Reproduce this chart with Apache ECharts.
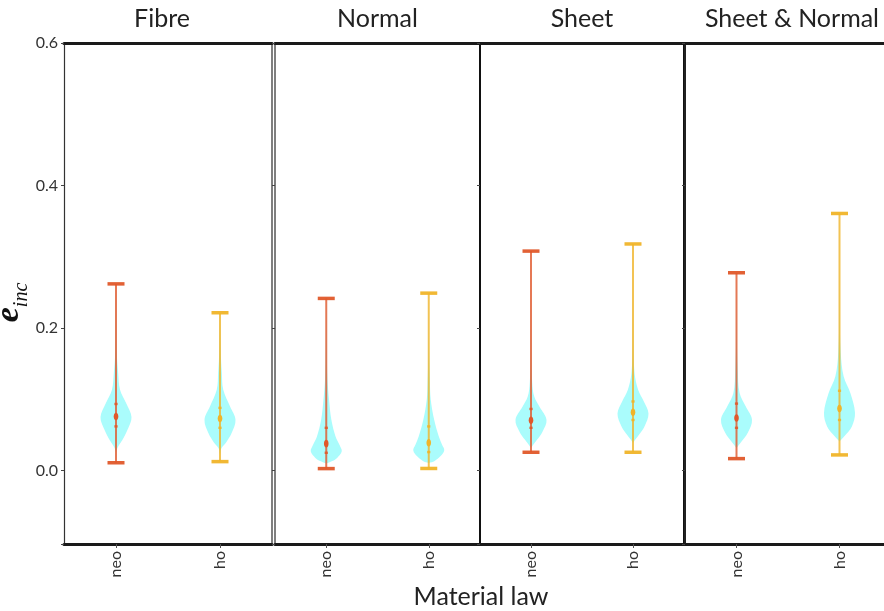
<!DOCTYPE html>
<html>
<head>
<meta charset="utf-8">
<script src="https://cdn.jsdelivr.net/npm/echarts@6/dist/echarts.min.js"></script>
<style>
  html, body { margin: 0; padding: 0; background: #fff; }
  #chart { width: 884px; height: 611px; }
</style>
</head>
<body>
<div id="chart"></div>
<script>
// Panel titles (one panel per fibre configuration) and the material laws inside each
const panelTitles = ['Fibre', 'Normal', 'Sheet', 'Sheet & Normal'];
const laws = ['neo', 'ho'];
const yTickValues = [0.0, 0.2, 0.4, 0.6];

// Summary statistics per law: [min, q1, median, q3, max]
const fibreStats       = [[0.011, 0.062, 0.076, 0.0935, 0.262], [0.0126, 0.060, 0.073, 0.088, 0.2215]];
const normalStats      = [[0.0028, 0.025, 0.0378, 0.060, 0.2416], [0.003, 0.026, 0.039, 0.062, 0.249]];
const sheetStats       = [[0.0257, 0.060, 0.0706, 0.0865, 0.308], [0.0257, 0.071, 0.0818, 0.097, 0.318]];
const sheetNormalStats = [[0.0168, 0.060, 0.0738, 0.094, 0.2776], [0.022, 0.071, 0.087, 0.112, 0.3608]];

// Density outlines: [value, relative width], bottom to top
const fibreNeoDensity  = [[0.025, 0], [0.032, 0.1], [0.0435, 0.43], [0.0575, 0.75], [0.0753, 1.0], [0.095, 0.65], [0.1136, 0.26], [0.137, 0.14], [0.165, 0.05], [0.21, 0.02], [0.262, 0]];
const fibreHoDensity   = [[0.023, 0], [0.0318, 0.1], [0.0388, 0.37], [0.0528, 0.75], [0.0715, 1.0], [0.090, 0.65], [0.1136, 0.21], [0.137, 0.12], [0.17, 0.04], [0.2215, 0]];
const normalNeoDensity = [[0.0098, 0], [0.013, 0.35], [0.0178, 0.7], [0.027, 1.0], [0.0364, 0.85], [0.048, 0.6], [0.0715, 0.33], [0.0995, 0.18], [0.1276, 0.08], [0.17, 0.03], [0.2416, 0]];
const normalHoDensity  = [[0.0107, 0], [0.0136, 0.38], [0.020, 0.75], [0.0285, 1.0], [0.0364, 0.86], [0.048, 0.65], [0.0715, 0.35], [0.0995, 0.13], [0.1276, 0.07], [0.17, 0.02], [0.249, 0]];
const sheetNeoDensity  = [[0.0318, 0], [0.035, 0.1], [0.0435, 0.4], [0.055, 0.75], [0.0715, 1.0], [0.090, 0.54], [0.104, 0.21], [0.123, 0.08], [0.17, 0.02], [0.308, 0]];
const sheetHoDensity   = [[0.0388, 0], [0.0435, 0.15], [0.0505, 0.4], [0.0621, 0.75], [0.080, 1.0], [0.097, 0.7], [0.1136, 0.33], [0.137, 0.1], [0.18, 0.02], [0.318, 0]];
const sheetNormalNeoDensity = [[0.0318, 0], [0.0388, 0.25], [0.0528, 0.72], [0.0715, 1.0], [0.090, 0.6], [0.109, 0.2], [0.1416, 0.08], [0.19, 0.02], [0.2776, 0]];
const sheetNormalHoDensity  = [[0.041, 0], [0.048, 0.3], [0.062, 0.8], [0.081, 1.0], [0.109, 0.7], [0.132, 0.27], [0.165, 0.08], [0.22, 0.02], [0.3608, 0]];

const panelStats = [fibreStats, normalStats, sheetStats, sheetNormalStats];
const panelDensities = [
  [fibreNeoDensity, fibreHoDensity],
  [normalNeoDensity, normalHoDensity],
  [sheetNeoDensity, sheetHoDensity],
  [sheetNormalNeoDensity, sheetNormalHoDensity]
];

// Layout and style
const FONT = 'Lato, "Open Sans", sans-serif';
const lawColors = ['#e0582a', '#f0b429'];
const violinFill = '#aafcfc';
const violinHalfWidth = 15.5;
const capHalfWidth = 8.5;
const gridBoxes = [
  { left: 64, width: 208 },
  { left: 275, width: 205 },
  { left: 480, width: 204 },
  { left: 685, width: 206 }
];
const titlePadding = [
  [0, 12, 0, 0],
  [0, 0, 0, 0],
  [0, 0, 0, 0],
  [0, 0, 0, 8]
];
const leftLine = [
  { width: 1.2, color: '#333' },
  { width: 1.5, color: '#555' },
  { width: 2, color: '#111' },
  { width: 2, color: '#222' }
];
const rightLine = [
  { width: 1.5, color: '#555' },
  { width: 2, color: '#111' },
  { width: 2, color: '#111' },
  null
];

const chart = echarts.init(document.getElementById('chart'), null, { renderer: 'canvas' });

const grids = [], xAxes = [], yAxes = [], series = [];

panelTitles.forEach((title, i) => {
  grids.push({
    left: gridBoxes[i].left, width: gridBoxes[i].width, top: 43, bottom: 67,
    containLabel: false, outerBoundsMode: 'none'
  });

  // bottom category axis
  xAxes.push({
    type: 'category', gridIndex: i, data: laws, position: 'bottom',
    axisLine: { show: true, onZero: false, lineStyle: { color: '#1a1a1a', width: 3 } },
    axisTick: { show: true, alignWithLabel: true, length: 4, lineStyle: { color: '#555' } },
    axisLabel: { rotate: 90, fontSize: 16, color: '#333', fontFamily: FONT, margin: 7 },
    splitLine: { show: false }
  });
  // top frame edge carrying the panel title
  xAxes.push({
    type: 'category', gridIndex: i, data: laws, position: 'top',
    axisLine: { show: true, onZero: false, lineStyle: { color: '#1a1a1a', width: 3 } },
    axisTick: { show: false }, axisLabel: { show: false },
    name: title, nameLocation: 'middle', nameGap: 12,
    nameTextStyle: { fontSize: 25, color: '#222', fontFamily: FONT, padding: titlePadding[i] }
  });

  const yBase = {
    type: 'value', gridIndex: i, min: -0.103, max: 0.6, splitNumber: 4,
    splitLine: { show: false }
  };
  yAxes.push(Object.assign({}, yBase, {
    position: 'left',
    axisLine: { show: true, onZero: false, lineStyle: leftLine[i] },
    axisTick: { show: true, length: 3, lineStyle: { color: '#444' } },
    axisLabel: {
      show: i === 0, fontSize: 16, color: '#333', fontFamily: FONT, margin: 6,
      formatter: v => yTickValues.some(t => Math.abs(t - v) < 1e-6) ? v.toFixed(1) : ''
    },
    name: i === 0 ? '{e|e}{s|inc}' : '',
    nameLocation: 'middle', nameGap: 32, nameRotate: 90,
    nameTextStyle: {
      padding: [0, 18, 0, 0],
      rich: {
        e: { fontFamily: '"Liberation Serif", serif', fontStyle: 'italic', fontWeight: 'bold', fontSize: 34, color: '#111', verticalAlign: 'bottom' },
        s: { fontFamily: '"Liberation Serif", serif', fontStyle: 'italic', fontSize: 20, color: '#111', verticalAlign: 'bottom', padding: [0, 0, -6, 0] }
      }
    }
  }));
  yAxes.push(Object.assign({}, yBase, {
    position: 'right',
    axisLine: { show: rightLine[i] !== null, onZero: false, lineStyle: rightLine[i] || {} },
    axisTick: { show: false }, axisLabel: { show: false }
  }));

  const stats = panelStats[i];
  const dens = panelDensities[i];

  series.push({
    type: 'custom',
    xAxisIndex: 2 * i,
    yAxisIndex: 2 * i,
    data: stats.map((s, k) => [k].concat(s)),
    renderItem: function (params, api) {
      const k = params.dataIndex;
      const cat = api.value(0);
      const vMin = api.value(1), q1 = api.value(2), med = api.value(3), q3 = api.value(4), vMax = api.value(5);
      const color = lawColors[k];
      const cx = api.coord([cat, 0])[0];
      const profile = dens[k];

      const leftSide = profile.map(p => [cx - p[1] * violinHalfWidth, api.coord([cat, p[0]])[1]]);
      const rightSide = profile.slice().reverse().map(p => [cx + p[1] * violinHalfWidth, api.coord([cat, p[0]])[1]]);
      const yMin = api.coord([cat, vMin])[1];
      const yMax = api.coord([cat, vMax])[1];
      const yQ1 = api.coord([cat, q1])[1];
      const yQ3 = api.coord([cat, q3])[1];
      const yMed = api.coord([cat, med])[1];

      return {
        type: 'group',
        children: [
          {
            type: 'polygon',
            shape: { points: leftSide.concat(rightSide), smooth: 0.35 },
            style: { fill: violinFill, stroke: null }
          },
          {
            type: 'line',
            shape: { x1: cx, y1: yMin, x2: cx, y2: yMax },
            style: { stroke: color, lineWidth: 2, opacity: 0.8 }
          },
          {
            type: 'line',
            shape: { x1: cx - capHalfWidth, y1: yMax, x2: cx + capHalfWidth, y2: yMax },
            style: { stroke: color, lineWidth: 3.5, opacity: 0.95 }
          },
          {
            type: 'line',
            shape: { x1: cx - capHalfWidth, y1: yMin, x2: cx + capHalfWidth, y2: yMin },
            style: { stroke: color, lineWidth: 3.5, opacity: 0.95 }
          },
          {
            type: 'rect',
            shape: { x: cx - 1.6, y: yQ1 - 1.2, width: 3.2, height: 2.4 },
            style: { fill: color, opacity: 0.9 }
          },
          {
            type: 'rect',
            shape: { x: cx - 1.6, y: yQ3 - 1.2, width: 3.2, height: 2.4 },
            style: { fill: color, opacity: 0.9 }
          },
          {
            type: 'ellipse',
            shape: { cx: cx, cy: yMed, rx: 2.3, ry: 3.8 },
            style: { fill: color }
          }
        ]
      };
    },
    z: 3,
    silent: true
  });
});

chart.setOption({
  backgroundColor: '#ffffff',
  animation: false,
  grid: grids,
  xAxis: xAxes,
  yAxis: yAxes,
  series: series,
  graphic: [{
    type: 'text',
    x: 481, y: 597,
    style: {
      text: 'Material law', fontSize: 25, fill: '#222', fontFamily: FONT,
      textAlign: 'center', textVerticalAlign: 'middle'
    }
  }]
});
</script>
</body>
</html>
